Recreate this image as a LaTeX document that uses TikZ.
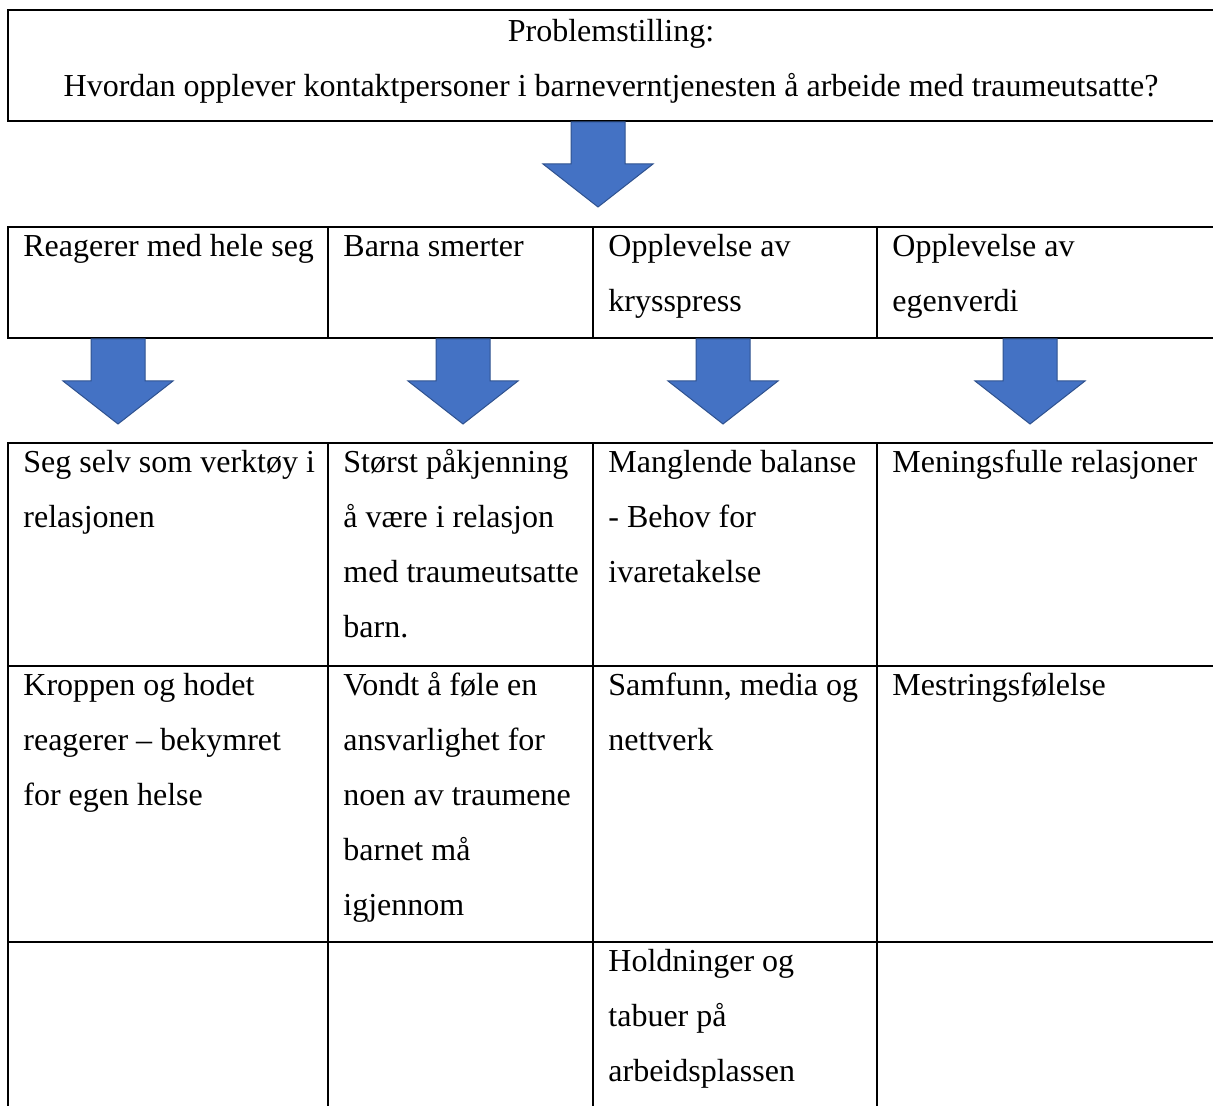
\documentclass[tikz,border=0pt]{standalone}
\usepackage{fontspec}
\setmainfont{Liberation Serif}
\definecolor{arrowblue}{HTML}{4472C4}
\definecolor{arrowedge}{HTML}{2F528F}

\tikzset{
  CellText/.style={anchor=north west, inner sep=0pt, align=left,
    font=\fontsize{16}{27.5}\selectfont},
  TableLine/.style={draw=black, line width=1pt},
  BlockArrow/.pic={
    \draw[fill=arrowblue, draw=arrowedge, line width=0.5pt]
      (-27,0) -- (27,0) -- (27,42) -- (55,42) -- (0,85)
      -- (-55,42) -- (-27,42) -- cycle;
  }
}

% cell text is placed by its top: first baseline minus the strut height (38.5)
\begin{document}
\begin{tikzpicture}[x=0.5pt, y=-0.5pt]
\clip (0,0) rectangle (1213,1106);

% Problem box (runs off the right edge)
\draw [TableLine] (1220,10) -- (8,10) -- (8,121) -- (1220,121);
\node (problem) at (611,2.5) [CellText, anchor=north, align=center]
    {\strut Problemstilling:\\Hvordan opplever kontaktpersoner i barneverntjenesten å arbeide med traumeutsatte?};

\pic at (598,122) {BlockArrow};

% Theme row
\draw [TableLine] (1220,227) -- (8,227) -- (8,338) -- (1220,338);
\draw [TableLine] (328,227) -- (328,338) (593,227) -- (593,338) (877,227) -- (877,338);

\node (reagerer) at (23,217.5) [CellText] {\strut Reagerer med hele seg};
\node (smerter) at (343,217.5) [CellText] {\strut Barna smerter};
\node (krysspress) at (608,217.5) [CellText] {\strut Opplevelse av\\krysspress};
\node (egenverdi) at (892,217.5) [CellText] {\strut Opplevelse av\\egenverdi};

\foreach \x in {118,463,723,1030}
    \pic at (\x,339) {BlockArrow};

% Sub-theme table (runs off the bottom)
\draw [TableLine] (1220,443) -- (8,443) -- (8,1110);
\draw [TableLine] (8,666) -- (1220,666) (8,942) -- (1220,942);
\draw [TableLine] (328,443) -- (328,1110) (593,443) -- (593,1110) (877,443) -- (877,1110);

\node (verktoy) at (23,434) [CellText] {\strut Seg selv som verktøy i\\relasjonen};
\node (pakjenning) at (343,434) [CellText] {\strut Størst påkjenning\\å være i relasjon\\med traumeutsatte\\barn.};
\node (balanse) at (608,434) [CellText] {\strut Manglende balanse\\- Behov for\\ivaretakelse};
\node (relasjoner) at (892,434) [CellText] {\strut Meningsfulle relasjoner};

\node (kroppen) at (23,656.5) [CellText] {\strut Kroppen og hodet\\reagerer – bekymret\\for egen helse};
\node (ansvar) at (343,656.5) [CellText] {\strut Vondt å føle en\\ansvarlighet for\\noen av traumene\\barnet må\\igjennom};
\node (samfunn) at (608,656.5) [CellText] {\strut Samfunn, media og\\nettverk};
\node (mestring) at (892,656.5) [CellText] {\strut Mestringsfølelse};

\node (holdninger) at (608,932.5) [CellText] {\strut Holdninger og\\tabuer på\\arbeidsplassen};

\end{tikzpicture}
\end{document}
